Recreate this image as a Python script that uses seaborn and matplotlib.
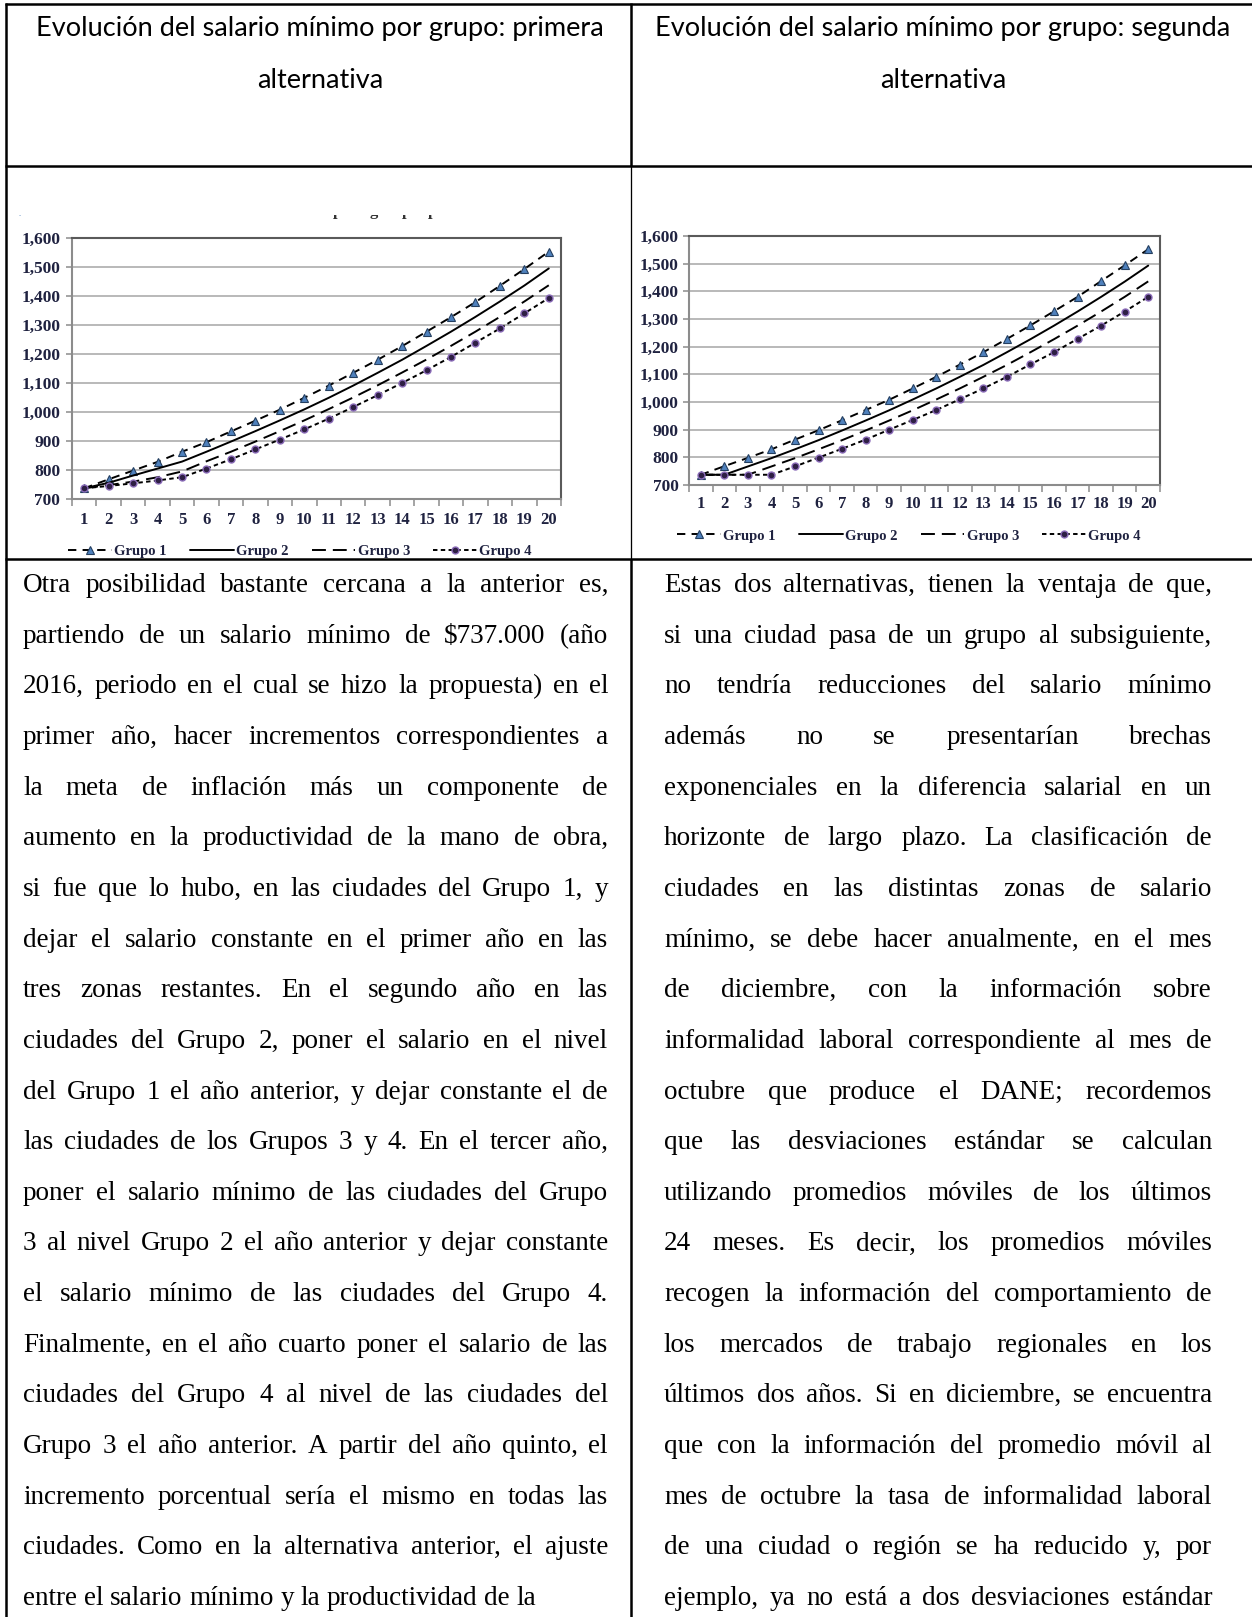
import matplotlib
matplotlib.use("Agg")
import matplotlib.pyplot as plt
import numpy as np
import pandas as pd
import seaborn as sns
from matplotlib.lines import Line2D
from matplotlib.transforms import Bbox

W, H, DPI = 1252, 1617, 100

# ---------------------------------------------------------------- data
years = list(range(1, 21))
groups = ["Grupo 1", "Grupo 2", "Grupo 3", "Grupo 4"]

# primera alternativa (miles de pesos)
alt1_g1 = [737, 768, 798, 828, 863, 896, 933, 970, 1008, 1049,
           1091, 1135, 1180, 1227, 1277, 1327, 1379, 1435, 1493, 1553]
alt1_g2 = [737, 756, 781, 805, 829, 863, 898, 934, 971, 1009,
           1049, 1091, 1135, 1180, 1228, 1277, 1328, 1381, 1436, 1495]
alt1_g3 = [737, 748, 760, 775, 795, 830, 863, 898, 934, 971,
           1010, 1050, 1092, 1136, 1181, 1228, 1277, 1328, 1381, 1437]
alt1_g4 = [737, 745, 754, 764, 775, 805, 837, 871, 905, 940,
           977, 1017, 1058, 1100, 1144, 1190, 1239, 1288, 1340, 1393]

# segunda alternativa
alt2_g1 = [737, 768, 798, 829, 864, 898, 934, 971, 1008, 1049,
           1091, 1135, 1180, 1228, 1277, 1328, 1380, 1437, 1494, 1552]
alt2_g2 = [737, 737, 767, 797, 829, 862, 897, 933, 970, 1009,
           1049, 1091, 1134, 1180, 1227, 1276, 1327, 1380, 1435, 1493]
alt2_g3 = [737, 737, 737, 767, 797, 829, 862, 897, 933, 970,
           1009, 1049, 1091, 1134, 1180, 1227, 1276, 1327, 1380, 1436]
alt2_g4 = [737, 737, 737, 737, 767, 799, 831, 864, 900, 935,
           971, 1010, 1049, 1091, 1136, 1180, 1228, 1276, 1327, 1380]

y_ticks = list(range(700, 1601, 100))

header_left = ["Evolución del salario mínimo por grupo: primera", "alternativa"]
header_right = ["Evolución del salario mínimo por grupo: segunda", "alternativa"]

body_left = [
    "Otra posibilidad bastante cercana a la anterior es,",
    "partiendo de un salario mínimo de $737.000 (año",
    "2016, periodo en el cual se hizo la propuesta) en el",
    "primer año, hacer incrementos correspondientes a",
    "la meta de inflación más un componente de",
    "aumento en la productividad de la mano de obra,",
    "si fue que lo hubo, en las ciudades del Grupo 1, y",
    "dejar el salario constante en el primer año en las",
    "tres zonas restantes. En el segundo año en las",
    "ciudades del Grupo 2, poner el salario en el nivel",
    "del Grupo 1 el año anterior, y dejar constante el de",
    "las ciudades de los Grupos 3 y 4. En el tercer año,",
    "poner el salario mínimo de las ciudades del Grupo",
    "3 al nivel Grupo 2 el año anterior y dejar constante",
    "el salario mínimo de las ciudades del Grupo 4.",
    "Finalmente, en el año cuarto poner el salario de las",
    "ciudades del Grupo 4 al nivel de las ciudades del",
    "Grupo 3 el año anterior. A partir del año quinto, el",
    "incremento porcentual sería el mismo en todas las",
    "ciudades. Como en la alternativa anterior, el ajuste",
    "entre el salario mínimo y la productividad de la",
]
body_right = [
    "Estas dos alternativas, tienen la ventaja de que,",
    "si una ciudad pasa de un grupo al subsiguiente,",
    "no tendría reducciones del salario mínimo",
    "además no se presentarían brechas",
    "exponenciales en la diferencia salarial en un",
    "horizonte de largo plazo. La clasificación de",
    "ciudades en las distintas zonas de salario",
    "mínimo, se debe hacer anualmente, en el mes",
    "de diciembre, con la información sobre",
    "informalidad laboral correspondiente al mes de",
    "octubre que produce el DANE; recordemos",
    "que las desviaciones estándar se calculan",
    "utilizando promedios móviles de los últimos",
    "24 meses. Es decir, los promedios móviles",
    "recogen la información del comportamiento de",
    "los mercados de trabajo regionales en los",
    "últimos dos años. Si en diciembre, se encuentra",
    "que con la información del promedio móvil al",
    "mes de octubre la tasa de informalidad laboral",
    "de una ciudad o región se ha reducido y, por",
    "ejemplo, ya no está a dos desviaciones estándar",
]

# ---------------------------------------------------------------- setup
sns.set_theme(style="white")
plt.rcParams["font.family"] = ["Liberation Serif", "DejaVu Serif"]
plt.rcParams["lines.scale_dashes"] = False

fig = plt.figure(figsize=(W / DPI, H / DPI), dpi=DPI)
fig.patch.set_facecolor("white")


def fx(px):
    return px / W


def fy(py):
    return 1 - py / H


def pt(px):
    return px * 72 / DPI


LABEL = "#1f2240"
LINE_W = 1.4
STYLE = {
    "Grupo 1": dict(linestyle=(0, (6, 4.5)), marker="^", markersize=5.2,
                    markerfacecolor="#4f81bd", markeredgecolor="#243f60",
                    markeredgewidth=0.8),
    "Grupo 2": dict(linestyle="-"),
    "Grupo 3": dict(linestyle=(0, (10, 5))),
    "Grupo 4": dict(linestyle=(0, (3.2, 2.4)), marker="o", markersize=5,
                    markerfacecolor="#2e1f44", markeredgecolor="#8a6bb8",
                    markeredgewidth=1.0),
}


def draw_chart(box, series, ypad, xpad, legend_center):
    left, top, right, bottom = box
    ax = fig.add_axes([fx(left), fy(bottom), (right - left) / W, (bottom - top) / H])
    df = pd.DataFrame({
        "Año": years * len(groups),
        "Salario": [v for s in series for v in s],
        "Grupo": np.repeat(groups, len(years)),
    })
    for g in groups:
        sns.lineplot(data=df[df["Grupo"] == g], x="Año", y="Salario", ax=ax,
                     color="black", linewidth=LINE_W, errorbar=None,
                     legend=False, **STYLE[g])

    ax.set_xlim(0.5, 20.5)
    ax.set_ylim(700, 1600)
    ax.set_xticks(years, labels=[str(v) for v in years], fontweight="bold",
                  fontsize=12, color=LABEL)
    ax.set_xticks(np.arange(0.5, 21, 1), minor=True)
    ax.set_yticks(y_ticks, labels=[f"{v:,}" for v in y_ticks], fontweight="bold",
                  fontsize=12.5, color=LABEL)
    ax.tick_params(axis="x", which="major", length=0, pad=xpad, bottom=True)
    ax.tick_params(axis="x", which="minor", length=5, width=1.1, color="#8c8c8c",
                   direction="out", bottom=True)
    ax.tick_params(axis="y", which="major", length=4, width=1.1, color="#8c8c8c",
                   direction="out", left=True, pad=ypad)
    ax.grid(axis="y", color="#a6a6a6", linewidth=1.1)
    ax.grid(axis="x", visible=False)
    ax.set_axisbelow(True)
    ax.set_xlabel("")
    ax.set_ylabel("")
    for side in ("top", "right"):
        ax.spines[side].set_color("#5a5a5a")
        ax.spines[side].set_linewidth(1.5)
    for side in ("left", "bottom"):
        ax.spines[side].set_color("#8c8c8c")
        ax.spines[side].set_linewidth(1.5)

    handles = [Line2D([], [], color="black", linewidth=LINE_W, **STYLE[g]) for g in groups]
    ax.legend(handles, groups, loc="center",
              bbox_to_anchor=(fx(legend_center[0]), fy(legend_center[1])),
              bbox_transform=fig.transFigure, ncol=4, frameon=False,
              handlelength=3.0, handletextpad=0.15, columnspacing=1.6,
              borderaxespad=0, borderpad=0,
              prop=dict(family="Liberation Serif", weight="bold", size=10.5),
              labelcolor=LABEL)
    return ax


draw_chart((72, 238, 561, 499), [alt1_g1, alt1_g2, alt1_g3, alt1_g4],
           ypad=4.5, xpad=9, legend_center=(300, 551))
draw_chart((689, 236, 1160, 485), [alt2_g1, alt2_g2, alt2_g3, alt2_g4],
           ypad=3.5, xpad=8, legend_center=(909, 536))

# remains of a clipped chart caption above the first chart
clip = Bbox.from_extents(0, fy(226) * H, W, fy(214.5) * H)
for x, ch in [(337, "p"), (374, "g"), (406, "p"), (432, "p")]:
    t = fig.text(fx(x), fy(215), ch, fontsize=12, fontweight="bold",
                 color="#333333", ha="center", va="baseline")
    t.set_clip_box(clip)
    t.set_clip_on(True)
fig.text(fx(20), fy(216), ".", fontsize=6, color="#4f81bd", ha="center", va="baseline")


# ---------------------------------------------------------------- table rules
def hline(y, x0, x1, lw):
    fig.add_artist(Line2D([fx(x0), fx(x1)], [fy(y), fy(y)], transform=fig.transFigure,
                          color="black", linewidth=pt(lw), solid_capstyle="butt"))


def vline(x, y0, y1, lw):
    fig.add_artist(Line2D([fx(x), fx(x)], [fy(y0), fy(y1)], transform=fig.transFigure,
                          color="black", linewidth=pt(lw), solid_capstyle="butt"))


hline(4, 5, W, 2.5)
hline(166, 5, W, 2.5)
hline(559, 5, W, 2.5)
vline(6, 3, H, 2.5)
vline(631, 3, 166, 2.5)
vline(631, 166, 559, 1.3)
vline(631, 559, H, 2.5)

# ---------------------------------------------------------------- header cells
HEAD = dict(family=["Lato", "DejaVu Sans"], size=19.5, color="black",
            ha="center", va="baseline")
for cx, lines in [(320, header_left), (943, header_right)]:
    fig.text(fx(cx), fy(36), lines[0], **HEAD)
    fig.text(fx(cx), fy(88), lines[1], **HEAD)

# ---------------------------------------------------------------- body text
BODY = dict(family=["Liberation Serif", "DejaVu Serif"], size=19.5, color="black")
renderer = fig.canvas.get_renderer()


def text_width(s):
    t = fig.text(0, 0, s, **BODY)
    w = t.get_window_extent(renderer).width
    t.remove()
    return w


SPACE = text_width("a a") - text_width("aa")


def paragraph(lines, left, right, y0, step, justify_last):
    for i, line in enumerate(lines):
        words = line.split()
        widths = [text_width(w) for w in words]
        last = i == len(lines) - 1
        if len(words) > 1 and (not last or justify_last):
            gap = (right - left - sum(widths)) / (len(words) - 1)
        else:
            gap = SPACE
        x = left
        y = y0 + i * step
        for w, wd in zip(words, widths):
            fig.text(fx(x), fy(y), w, ha="left", va="baseline", **BODY)
            x += wd + gap


paragraph(body_left, 23, 608, 592, 50.65, justify_last=False)
paragraph(body_right, 664, 1212, 592, 50.65, justify_last=True)

fig.savefig("out.png", dpi=DPI, facecolor="white")
